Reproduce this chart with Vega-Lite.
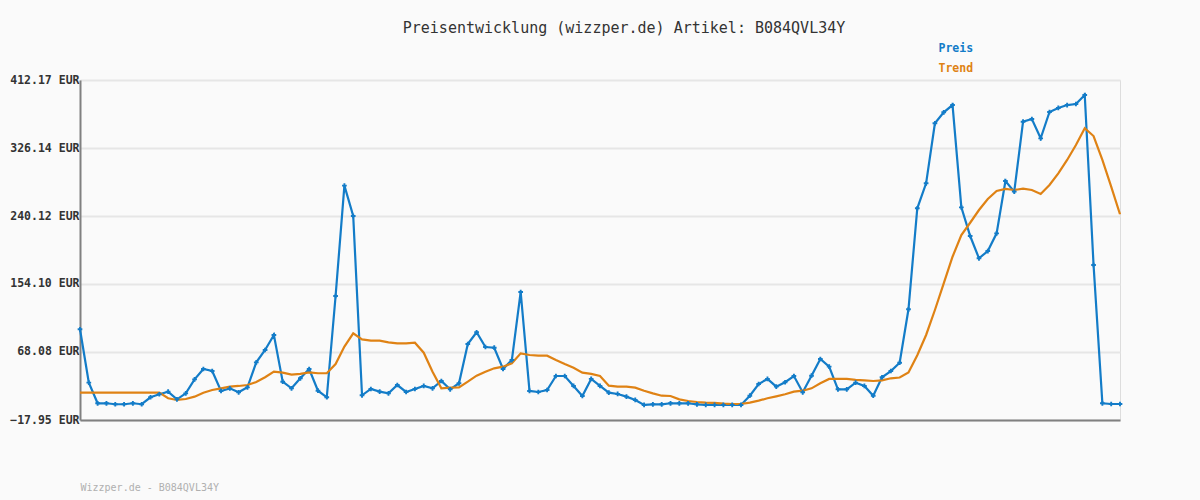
{
  "$schema": "https://vega.github.io/schema/vega-lite/v6.json",
  "width": 1040,
  "height": 340,
  "autosize": {"type": "none"},
  "padding": {"left": 80, "top": 80, "right": 80, "bottom": 80},
  "background": "#fafafa",
  "title": {
    "text": "Preisentwicklung (wizzper.de) Artikel: B084QVL34Y",
    "font": "DejaVu Sans Mono",
    "fontSize": 15,
    "fontWeight": "normal",
    "color": "#333333",
    "anchor": "middle",
    "frame": "group",
    "dx": 24,
    "offset": 7
  },
  "data": {
    "values": [
      {"i":0,"Preis":96.8,"Trend":16.6},{"i":1,"Preis":29.3,"Trend":16.6},{"i":2,"Preis":3.2,"Trend":16.6},{"i":3,"Preis":3.2,"Trend":16.6},
      {"i":4,"Preis":2.0,"Trend":16.6},{"i":5,"Preis":2.0,"Trend":16.6},{"i":6,"Preis":3.2,"Trend":16.6},{"i":7,"Preis":2.0,"Trend":16.6},
      {"i":8,"Preis":10.8,"Trend":16.6},{"i":9,"Preis":14.6,"Trend":16.6},{"i":10,"Preis":17.9,"Trend":9.5},{"i":11,"Preis":8.2,"Trend":7.4},
      {"i":12,"Preis":15.8,"Trend":8.6},{"i":13,"Preis":33.5,"Trend":11.6},{"i":14,"Preis":46.6,"Trend":16.6},{"i":15,"Preis":44.0,"Trend":20.0},
      {"i":16,"Preis":18.8,"Trend":22.1},{"i":17,"Preis":22.1,"Trend":24.2},{"i":18,"Preis":17.1,"Trend":25.1},{"i":19,"Preis":23.4,"Trend":26.3},
      {"i":20,"Preis":55.0,"Trend":30.2},{"i":21,"Preis":70.6,"Trend":36.1},{"i":22,"Preis":89.6,"Trend":43.2},{"i":23,"Preis":30.5,"Trend":42.0},
      {"i":24,"Preis":22.1,"Trend":39.5},{"i":25,"Preis":34.8,"Trend":40.3},{"i":26,"Preis":46.6,"Trend":42.4},{"i":27,"Preis":19.1,"Trend":41.2},
      {"i":28,"Preis":10.8,"Trend":41.2},{"i":29,"Preis":138.9,"Trend":52.9},{"i":30,"Preis":278.5,"Trend":74.9},{"i":31,"Preis":240.1,"Trend":91.7},
      {"i":32,"Preis":13.3,"Trend":84.1},{"i":33,"Preis":21.3,"Trend":82.4},{"i":34,"Preis":17.9,"Trend":82.4},{"i":35,"Preis":15.8,"Trend":80.3},
      {"i":36,"Preis":26.3,"Trend":79.0},{"i":37,"Preis":17.5,"Trend":79.0},{"i":38,"Preis":21.3,"Trend":79.8},{"i":39,"Preis":25.1,"Trend":67.2},
      {"i":40,"Preis":22.1,"Trend":43.2},{"i":41,"Preis":31.4,"Trend":22.1},{"i":42,"Preis":20.9,"Trend":22.9},{"i":43,"Preis":28.5,"Trend":23.4},
      {"i":44,"Preis":78.2,"Trend":30.5},{"i":45,"Preis":93.0,"Trend":38.1},{"i":46,"Preis":74.4,"Trend":43.2},{"i":47,"Preis":73.5,"Trend":47.4},
      {"i":48,"Preis":46.6,"Trend":49.5},{"i":49,"Preis":57.9,"Trend":53.8},{"i":50,"Preis":144.0,"Trend":66.4},{"i":51,"Preis":18.8,"Trend":64.3},
      {"i":52,"Preis":17.5,"Trend":63.4},{"i":53,"Preis":20.0,"Trend":63.4},{"i":54,"Preis":37.7,"Trend":57.9},{"i":55,"Preis":37.7,"Trend":52.9},
      {"i":56,"Preis":25.1,"Trend":48.2},{"i":57,"Preis":12.4,"Trend":41.9},{"i":58,"Preis":34.0,"Trend":40.3},{"i":59,"Preis":25.1,"Trend":37.7},
      {"i":60,"Preis":16.6,"Trend":25.5},{"i":61,"Preis":15.0,"Trend":24.2},{"i":62,"Preis":11.6,"Trend":24.2},{"i":63,"Preis":7.4,"Trend":23.0},
      {"i":64,"Preis":1.1,"Trend":19.1},{"i":65,"Preis":1.9,"Trend":15.8},{"i":66,"Preis":1.9,"Trend":12.8},{"i":67,"Preis":3.2,"Trend":12.4},
      {"i":68,"Preis":3.2,"Trend":8.2},{"i":69,"Preis":3.2,"Trend":6.1},{"i":70,"Preis":1.9,"Trend":4.8},{"i":71,"Preis":1.1,"Trend":4.0},
      {"i":72,"Preis":1.1,"Trend":3.6},{"i":73,"Preis":1.1,"Trend":2.7},{"i":74,"Preis":1.1,"Trend":2.3},{"i":75,"Preis":1.1,"Trend":2.3},
      {"i":76,"Preis":12.8,"Trend":4.0},{"i":77,"Preis":27.6,"Trend":6.5},{"i":78,"Preis":34.0,"Trend":9.5},{"i":79,"Preis":24.2,"Trend":12.0},
      {"i":80,"Preis":29.8,"Trend":14.6},{"i":81,"Preis":37.7,"Trend":17.9},{"i":82,"Preis":17.1,"Trend":19.1},{"i":83,"Preis":38.1,"Trend":22.1},
      {"i":84,"Preis":59.2,"Trend":28.5},{"i":85,"Preis":49.5,"Trend":34.0},{"i":86,"Preis":20.9,"Trend":34.0},{"i":87,"Preis":20.9,"Trend":34.0},
      {"i":88,"Preis":29.3,"Trend":32.7},{"i":89,"Preis":25.1,"Trend":32.3},{"i":90,"Preis":12.8,"Trend":31.4},{"i":91,"Preis":36.1,"Trend":32.2},
      {"i":92,"Preis":44.0,"Trend":34.8},{"i":93,"Preis":54.5,"Trend":35.8},{"i":94,"Preis":122.1,"Trend":42.2},{"i":95,"Preis":249.9,"Trend":64.0},
      {"i":96,"Preis":281.5,"Trend":89.6},{"i":97,"Preis":357.4,"Trend":121.2},{"i":98,"Preis":371.3,"Trend":155.0},{"i":99,"Preis":380.5,"Trend":188.6},
      {"i":100,"Preis":251.1,"Trend":216.1},{"i":101,"Preis":214.8,"Trend":231.6},{"i":102,"Preis":186.6,"Trend":247.7},{"i":103,"Preis":195.8,"Trend":261.6},
      {"i":104,"Preis":218.2,"Trend":271.7},{"i":105,"Preis":284.4,"Trend":274.3},{"i":106,"Preis":270.9,"Trend":273.0},{"i":107,"Preis":359.4,"Trend":274.7},
      {"i":108,"Preis":362.8,"Trend":273.0},{"i":109,"Preis":338.4,"Trend":267.9},{"i":110,"Preis":371.7,"Trend":279.3},{"i":111,"Preis":376.8,"Trend":294.1},
      {"i":112,"Preis":380.5,"Trend":311.0},{"i":113,"Preis":381.8,"Trend":330.0},{"i":114,"Preis":393.2,"Trend":351.1},{"i":115,"Preis":178.1,"Trend":341.3},
      {"i":116,"Preis":3.2,"Trend":311.0},{"i":117,"Preis":2.3,"Trend":277.2},{"i":118,"Preis":2.3,"Trend":242.3}
    ]
  },
  "transform": [{"fold": ["Preis", "Trend"], "as": ["serie", "wert"]}],
  "encoding": {
    "x": {
      "field": "i", "type": "quantitative",
      "scale": {"domain": [0, 118], "nice": false, "zero": false},
      "axis": {
        "title": "Wizzper.de - B084QVL34Y",
        "titleFont": "DejaVu Sans Mono", "titleFontSize": 10, "titleFontWeight": "normal",
        "titleColor": "#b0b0b0", "titleAnchor": "start", "titleAlign": "left", "titlePadding": 62,
        "labels": false, "ticks": false, "grid": false,
        "domainColor": "#808080", "domainWidth": 2
      }
    },
    "y": {
      "field": "wert", "type": "quantitative",
      "scale": {"domain": [-17.95, 412.17], "nice": false, "zero": false},
      "axis": {
        "title": null,
        "values": [-17.95, 68.08, 154.10, 240.12, 326.14, 412.17],
        "labelExpr": "format(datum.value, '.2f') + ' EUR'",
        "labelFont": "DejaVu Sans Mono", "labelFontSize": 11.5, "labelFontWeight": "bold",
        "labelColor": "#333333", "labelPadding": 1,
        "ticks": false,
        "grid": true, "gridColor": "#e6e6e6", "gridWidth": 2,
        "domainColor": "#808080", "domainWidth": 2
      }
    },
    "color": {
      "field": "serie", "type": "nominal",
      "scale": {"domain": ["Preis", "Trend"], "range": ["#137cc8", "#df8214"]},
      "legend": {
        "title": null, "orient": "none", "legendX": 847, "legendY": -37,
        "direction": "vertical",
        "symbolSize": 0, "symbolOpacity": 0, "symbolStrokeWidth": 0,
        "labelOffset": 0, "rowPadding": 7,
        "labelFont": "DejaVu Sans Mono", "labelFontSize": 11.5, "labelFontWeight": "bold",
        "encode": {"labels": {"update": {"fill": {"signal": "datum.value === 'Preis' ? '#137cc8' : '#df8214'"}}}}
      }
    }
  },
  "layer": [
    {"mark": {"type": "line", "strokeWidth": 2.2}},
    {
      "transform": [{"filter": "datum.serie === 'Preis'"}],
      "mark": {"type": "point", "shape": "cross", "filled": true, "size": 22, "opacity": 1}
    }
  ]
}
